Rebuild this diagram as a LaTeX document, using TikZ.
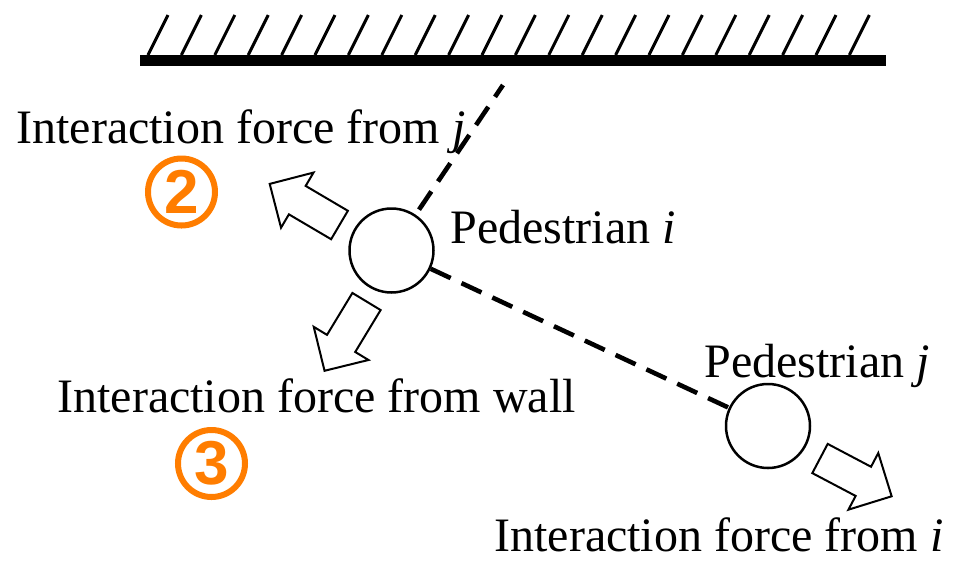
\documentclass[tikz,border=0pt]{standalone}
\usepackage{fontspec}
\setmainfont{Liberation Serif}
\newfontfamily\numfont{Liberation Sans}
\usetikzlibrary{shapes.arrows}
\definecolor{numorange}{RGB}{255,125,0}

\begin{document}
\begin{tikzpicture}[x=0.5pt,y=-0.5pt,
    ped/.style={circle,draw,line width=1.25pt,minimum size=42pt,inner sep=0pt},
    force/.style={single arrow,draw,line width=1pt,fill=white,minimum height=40.5pt,minimum width=31pt,
      single arrow head extend=7.75pt,inner xsep=0pt,inner ysep=7.75pt,outer sep=0pt,anchor=tail},
    lbl/.style={anchor=base west,inner sep=0pt,font=\fontsize{24}{28}\selectfont},
    num/.style={circle,draw=numorange,line width=3pt,minimum size=33.5pt,inner sep=0pt,
      text=numorange,font=\numfont\bfseries\fontsize{31}{31}\selectfont},
    dashline/.style={line width=2.3pt,dash pattern=on 11pt off 6pt}]
  \useasboundingbox (0,0) rectangle (965,564);
  \draw[line width=5.5pt] (140,60.5) -- (886,60.5);
  \foreach \x in {0,...,21}{\draw[line width=1.5pt] (148+33.4*\x,55) -- ++(20,-40);}
  \node[ped] (i) at (391.5,250.5) {};
  \node[ped] (j) at (768,426) {};
  \coordinate (wallpt) at (503,85);
  \draw[dashline,shorten <=3pt] (i) -- (wallpt);
  \draw[dashline] (i) -- (j);
  \node[force,rotate=149.5] (fj) at (339.5,225) {};
  \node[force,rotate=238.8] (fw) at (366.5,301.5) {};
  \node[force,rotate=-27.8] (fi) at (820,458.5) {};
  \node[lbl] (tj) at (16,143) {Interaction force from \textit{j}};
  \node[lbl] (pi) at (450,243) {Pedestrian \textit{i}};
  \node[lbl] (pj) at (704,377) {Pedestrian \textit{j}};
  \node[lbl] (tw) at (57,412) {Interaction force from wall};
  \node[lbl] (ti) at (494,551) {Interaction force from \textit{i}};
  \node[num] (n2) at (181.5,192) {2};
  \node[num] (n3) at (211.5,463.5) {3};
\end{tikzpicture}
\end{document}
